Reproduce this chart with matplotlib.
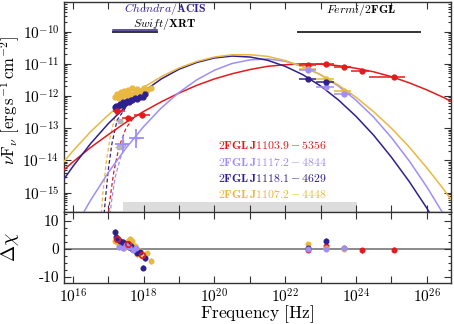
import numpy as np
import matplotlib
matplotlib.use("Agg")
import matplotlib.pyplot as plt
from matplotlib.ticker import LogLocator, FuncFormatter, NullLocator, MultipleLocator, NullFormatter

plt.rcParams['mathtext.fontset'] = 'cm'
plt.rcParams['font.family'] = 'serif'
plt.rcParams['font.serif'] = ['cmr10', 'DejaVu Serif']
plt.rcParams['axes.formatter.use_mathtext'] = True
plt.rcParams['axes.unicode_minus'] = False

RED = '#e41a1c'
LAV = '#a08ef7'
DARK = '#30208f'
GOLD = '#e9b840'
GREY = '#b4b4b4'

# model curves, log10(nu) grid and log10(nuFnu)
grid = np.arange(15.5, 27.01, 0.5)
red_m = [-14.53, -14.05, -13.60, -13.20, -12.82, -12.48, -12.18, -11.91, -11.67, -11.47, -11.31, -11.18,
         -11.08, -11.03, -11.00, -11.01, -11.06, -11.14, -11.25, -11.40, -11.59, -11.81, -12.06, -12.36]
lav_m = [-17.22, -16.19, -15.24, -14.38, -13.62, -12.95, -12.37, -11.89, -11.50, -11.20, -10.99, -10.88,
         -10.85, -10.92, -11.09, -11.34, -11.69, -12.13, -12.66, -13.29, -14.01, -14.82, -15.72, -16.71]
dark_m = [-14.97, -14.19, -13.48, -12.86, -12.32, -11.86, -11.47, -11.17, -10.96, -10.82, -10.76, -10.79,
          -10.89, -11.08, -11.34, -11.69, -12.12, -12.63, -13.22, -13.90, -14.65, -15.48, -16.40, -17.40]
gold_m = [-14.36, -13.71, -13.11, -12.59, -12.13, -11.73, -11.40, -11.13, -10.93, -10.79, -10.72, -10.72,
          -10.77, -10.90, -11.09, -11.34, -11.66, -12.04, -12.49, -13.00, -13.58, -14.23, -14.93, -15.71]

# absorbed models (dashed)
gold_abs_f = [17.5, 17.2, 17.05, 16.95, 16.85, 16.8]
gold_abs = [-12.2, -12.6, -13.3, -14.0, -15.0, -15.7]
dark_abs_f = [17.5, 17.25, 17.1, 17.0, 16.92, 16.88]
dark_abs = [-12.35, -12.75, -13.5, -14.3, -15.2, -15.7]
red_abs_f = [17.7, 17.5, 17.3, 17.15, 17.05, 17.0]
red_abs = [-12.7, -13.0, -13.6, -14.4, -15.2, -15.7]
lav_abs_f = [17.5, 17.35, 17.2, 17.1, 17.05]
lav_abs = [-13.5, -13.9, -14.5, -15.2, -15.7]

# X-ray data
gold_xf = [17.20, 17.25, 17.30, 17.35, 17.40, 17.45, 17.50, 17.55, 17.62, 17.68, 17.75, 17.82, 17.90, 18.00, 18.10, 18.22]
gold_x = [-12.04, -11.93, -12.06, -11.88, -11.99, -11.86, -11.96, -11.80, -11.93, -11.76, -11.90, -11.78, -11.86, -11.76, -11.83, -11.74]
gold_xr = [3.0, 2.4, 1.0, 1.8, 0.9, 0.3, 1.5, 2.8, 3.6, 2.9, 1.2, -1.9, -0.8, -2.6, -1.6, -4.4]
dark_xf = [17.18, 17.22, 17.28, 17.33, 17.38, 17.43, 17.48, 17.53, 17.58, 17.63, 17.68, 17.75, 17.82, 17.90, 17.97, 18.05]
dark_x = [-12.34, -12.30, -12.32, -12.25, -12.27, -12.20, -12.22, -12.16, -12.18, -12.12, -12.14, -12.07, -12.08, -12.02, -12.04, -11.95]
dark_xr = [6.0, 4.2, 3.5, 3.0, 2.2, 2.6, 1.5, 1.8, 0.6, 1.0, 0.0, -0.5, -1.5, -1.2, -6.7, -3.2]
red_xf = [17.24, 17.55, 17.95]
red_x = [-12.46, -12.69, -12.58]
red_xlo = [17.13, 17.38, 17.72]
red_xhi = [17.46, 17.72, 18.17]
red_xr = [3.6, 1.7, -2.0]
lav_xf = [17.41, 17.79]
lav_x = [-13.48, -13.32]
lav_xlo = [17.2, 17.6]
lav_xhi = [17.6, 18.0]
lav_xe = [0.25, 0.3]
lav_rf = [17.30, 17.41, 17.50, 17.60, 17.70, 17.79]
lav_xr = [0.8, 0.2, 1.5, 0.6, -0.3, 0.4]
grey_xf = [17.22, 17.32, 17.30]
grey_x = [-12.45, -12.79, -13.58]

# Fermi 2FGL bands
bins = [22.38, 22.86, 23.38, 23.86, 24.38, 25.38]
red_ff = [22.65, 23.15, 23.66, 24.17, 25.07]
red_fl = [-11.05, -11.02, -11.09, -11.22, -11.41]
red_fr = [-0.3, 0.9, 0.2, -0.5, -0.2]
lav_ff = [22.65, 23.15, 23.66]
lav_fl = [-11.20, -11.73, -11.94]
lav_fr = [0.1, 0.0, 0.3]
dark_ff = [22.65, 23.15]
dark_fl = [-11.46, -11.58]
dark_fr = [0.3, 3.0]
gold_ff = [22.65, 23.15, 23.66]
gold_fl = [-11.15, -11.46, -11.86]
gold_fr = [1.7, 0.5, 0.1]

names = ['2FGL J1103.9 - 5356', '2FGL J1117.2 - 4844', '2FGL J1118.1 - 4629', '2FGL J1107.2 - 4448']
colors = [RED, LAV, DARK, GOLD]

fig = plt.figure(figsize=(4.54, 3.24), dpi=100)
ax = fig.add_axes([0.141, 0.346, 0.852, 0.648])
axr = fig.add_axes([0.141, 0.1265, 0.852, 0.2195], sharex=ax)


def p(v):
    return 10.0 ** np.asarray(v, dtype=float)


def fermi(a, ff, fl, c, ey=0.05):
    ff = np.asarray(ff)
    lo = ff - np.asarray(bins[:len(ff)])
    hi = np.asarray(bins[1:len(ff) + 1]) - ff
    y = p(fl)
    a.errorbar(p(ff), y, xerr=[p(ff) - p(ff - lo), p(ff + hi) - p(ff)],
               yerr=[y - y * 10 ** -ey, y * 10 ** ey - y], fmt='o', color=c, ms=3.5, lw=1.1,
               capsize=0, zorder=5)


# models
for m, c in [(red_m, RED), (lav_m, LAV), (dark_m, DARK), (gold_m, GOLD)]:
    ax.plot(p(grid), p(m), color=c, lw=1.1, zorder=3)
for f, m, c in [(gold_abs_f, gold_abs, GOLD), (dark_abs_f, dark_abs, DARK),
                (red_abs_f, red_abs, RED), (lav_abs_f, lav_abs, LAV)]:
    ax.plot(p(f), p(m), color=c, lw=0.9, ls=(0, (3, 2)), zorder=2)

# X-ray data
ax.plot(p(grey_xf), p(grey_x), 's', color=GREY, ms=3, zorder=4)
ax.errorbar(p(grey_xf), p(grey_x), xerr=[p(grey_xf) - p(np.array(grey_xf) - 0.1),
                                         p(np.array(grey_xf) + 0.1) - p(grey_xf)],
            fmt='none', ecolor=GREY, lw=1, zorder=4)
ax.plot(p(gold_xf), p(gold_x), 'o', color=GOLD, ms=3.5, zorder=4)
ax.plot(p(dark_xf), p(dark_x), 'o', color=DARK, ms=3.5, zorder=4)
ry = p(red_x)
ax.errorbar(p(red_xf), ry, xerr=[p(red_xf) - p(red_xlo), p(red_xhi) - p(red_xf)],
            yerr=[ry - ry * 10 ** -0.06, ry * 10 ** 0.06 - ry], fmt='o', color=RED, ms=3.5,
            lw=1.1, zorder=5)
ly = p(lav_x)
ax.errorbar(p(lav_xf), ly, xerr=[p(lav_xf) - p(lav_xlo), p(lav_xhi) - p(lav_xf)],
            yerr=[ly - ly * 10 ** -np.array(lav_xe), ly * 10 ** np.array(lav_xe) - ly], fmt='+',
            color=LAV, ms=6, lw=1.3, zorder=5)

# Fermi data
fermi(ax, red_ff, red_fl, RED, 0.06)
fermi(ax, gold_ff, gold_fl, GOLD)
fermi(ax, lav_ff, lav_fl, LAV)
fermi(ax, dark_ff, dark_fl, DARK)

# instrument bands
ax.axvspan(p(17.41), p(24.03), ymin=0.005, ymax=0.048, color='#dddddd', lw=0, zorder=1)
ax.plot(p([22.37, 25.8]), p([-10.0, -10.0]), color='#333333', lw=1.4)
ax.plot(p([17.13, 18.39]), p([-10.0, -10.0]), color='#333333', lw=1.4)
ax.plot(p([17.13, 18.39]), p([-9.95, -9.95]), color=DARK, lw=1.1)
ax.text(p(18.6), p(-9.30), r'$\mathit{Chandra}\mathbf{/ACIS}$', color=DARK, fontsize=8.5,
        ha='center', va='center')
ax.text(p(18.6), p(-9.76), r'$\mathit{Swift}\mathbf{/XRT}$', color='black', fontsize=8.5,
        ha='center', va='center')
ax.text(p(24.15), p(-9.33), r'$\mathit{Fermi}\mathbf{/2FGL}$', color='black', fontsize=8.5,
        ha='center', va='center')

for i, (n, c) in enumerate(zip(names, colors)):
    a, b = n.split(' - ')
    ax.text(0.398, 0.318 - i * 0.078, r'$\mathbf{%s - %s}$' % (a.replace(' ', r'\,'), b),
            transform=ax.transAxes, color=c, fontsize=8.5, va='center', ha='left')

ax.set_xscale('log')
ax.set_yscale('log')
ax.set_xlim(p(15.75), p(26.68))
ax.set_ylim(p(-15.6), p(-9.08))

# residuals
axr.axhline(0, color='#777777', lw=1.2, zorder=1)
for f, r, c in [(gold_xf, gold_xr, GOLD), (dark_xf, dark_xr, DARK), (lav_rf, lav_xr, LAV)]:
    axr.errorbar(p(f), r, yerr=1.0, fmt='o', color=c, ms=3.3, lw=1, capsize=0, zorder=3)
axr.plot(p(red_xf), red_xr, 'o', mfc='none', mec=RED, mew=1.2, ms=4, zorder=4)
for f, r, c in [(red_ff, red_fr, RED), (gold_ff, gold_fr, GOLD), (dark_ff, dark_fr, DARK),
                (lav_ff, lav_fr, LAV)]:
    axr.errorbar(p(f), r, yerr=0.8, fmt='o', color=c, ms=3.3, lw=1, capsize=0, zorder=3)
axr.set_ylim(-12.2, 13.3)
axr.set_yticks([-10, 0, 10], labels=['-10', '0', '10'])
axr.yaxis.set_minor_locator(MultipleLocator(2.5))

dec_fmt = FuncFormatter(lambda v, pos: r'$10^{%d}$' % round(np.log10(v)) if round(np.log10(v)) % 2 == 0 else '')
for a in (ax, axr):
    a.xaxis.set_major_locator(LogLocator(base=10, numticks=30))
    a.xaxis.set_minor_locator(NullLocator())
    a.tick_params(which='both', direction='in', top=True, right=True, labelsize=11, width=0.8,
                  color='#333333')
    a.tick_params(which='major', length=5)
    a.tick_params(which='minor', length=2.5)
    for s in a.spines.values():
        s.set_color('#333333')
        s.set_linewidth(1.0)
ax.yaxis.set_major_locator(LogLocator(base=10, numticks=20))
ax.yaxis.set_minor_locator(LogLocator(base=10, subs=np.arange(2, 10), numticks=20))
ax.yaxis.set_minor_formatter(NullFormatter())
ax.tick_params(labelbottom=False)
axr.xaxis.set_major_formatter(dec_fmt)

ax.set_ylabel(r'$\nu\mathrm{F}_\nu\ [\mathrm{erg\,s^{-1}\,cm^{-2}}]$', fontsize=12)
axr.set_ylabel(r'$\Delta\chi$', fontsize=14)
axr.set_xlabel(r'$\mathrm{Frequency\ [Hz]}$', fontsize=12.5)
ax.yaxis.set_label_coords(-0.108, 0.53)
axr.yaxis.set_label_coords(-0.11, 0.5)
axr.xaxis.set_label_coords(0.5, -0.29)

fig.savefig('out.png', dpi=100)
